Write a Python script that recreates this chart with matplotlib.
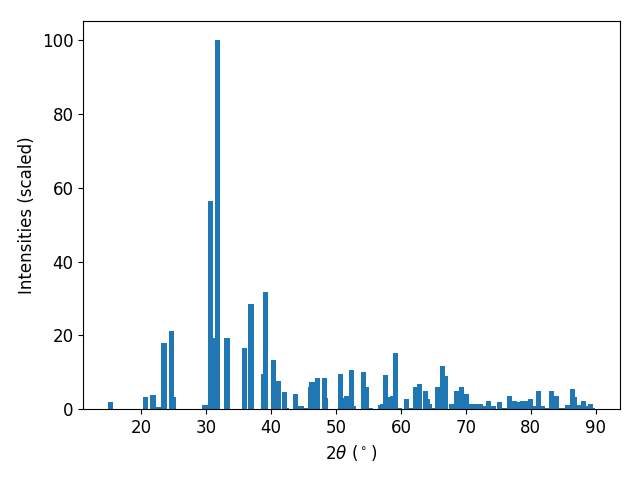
import matplotlib
matplotlib.use('Agg')
import matplotlib.pyplot as plt

plt.rcParams['font.size'] = 12

# positions des pics (2theta) et intensites relatives
two_theta = [15.2, 20.6, 21.8, 22.6, 23.5, 24.6, 24.9,
             29.8, 30.6, 30.9, 31.7, 33.2, 35.9, 36.9, 38.8, 39.1,
             40.4, 41.1, 42.0, 42.4, 43.8, 44.6, 45.4,
             46.1, 46.3, 47.1, 48.2, 48.4, 50.7, 51.2, 51.6, 52.4, 52.7,
             54.2, 54.7, 55.3, 56.9, 57.2, 57.6, 58.4, 58.7, 59.2, 59.8,
             60.8, 61.4, 62.2, 62.8, 63.8, 64.0, 64.4, 64.9,
             65.6, 66.4, 66.9, 67.8, 68.5, 69.3, 70.0, 70.6, 71.0, 71.6,
             72.3, 72.9, 73.5, 74.3, 75.2, 75.7, 76.1, 76.7, 77.5, 78.2,
             78.7, 79.3, 79.9, 80.5, 81.2, 81.8, 82.4, 83.2, 83.9, 84.7,
             85.3, 85.7, 86.4, 86.7, 87.0, 87.5, 88.1, 88.6, 89.2, 89.5]
intensite = [1.9, 3.3, 4.0, 0.6, 17.9, 21.1, 3.3,
             1.1, 56.4, 19.2, 100.0, 19.2, 16.5, 28.5, 9.5, 31.7,
             13.3, 7.6, 4.6, 0.3, 4.3, 0.8, 0.3,
             6.0, 7.3, 8.4, 8.4, 3.0, 9.5, 3.0, 3.5, 10.6, 0.8,
             10.0, 6.0, 0.5, 1.1, 1.4, 9.2, 3.3, 3.5, 15.2, 0.3,
             2.7, 0.3, 6.0, 7.0, 4.9, 2.7, 1.6, 0.3,
             6.2, 11.7, 9.0, 1.6, 5.1, 6.0, 4.1, 1.6, 1.4, 1.6,
             1.4, 0.8, 2.4, 0.8, 1.9, 0.3, 0.5, 3.5, 2.2, 1.9,
             2.2, 2.2, 2.7, 0.8, 4.9, 0.8, 0.3, 5.1, 3.5, 0.5,
             0.3, 1.1, 5.4, 3.3, 0.3, 1.1, 2.4, 0.8, 1.4, 0.3]

fig, ax = plt.subplots(figsize=(6.4, 4.8), dpi=100)
ax.bar(two_theta, intensite, width=0.8, color='#1f77b4')
ax.set_xlabel(r'$2\theta$ ($^\circ$)')
ax.set_ylabel('Intensities (scaled)')
fig.subplots_adjust(left=0.130, right=0.968, top=0.956, bottom=0.147)
fig.savefig('out.png')
